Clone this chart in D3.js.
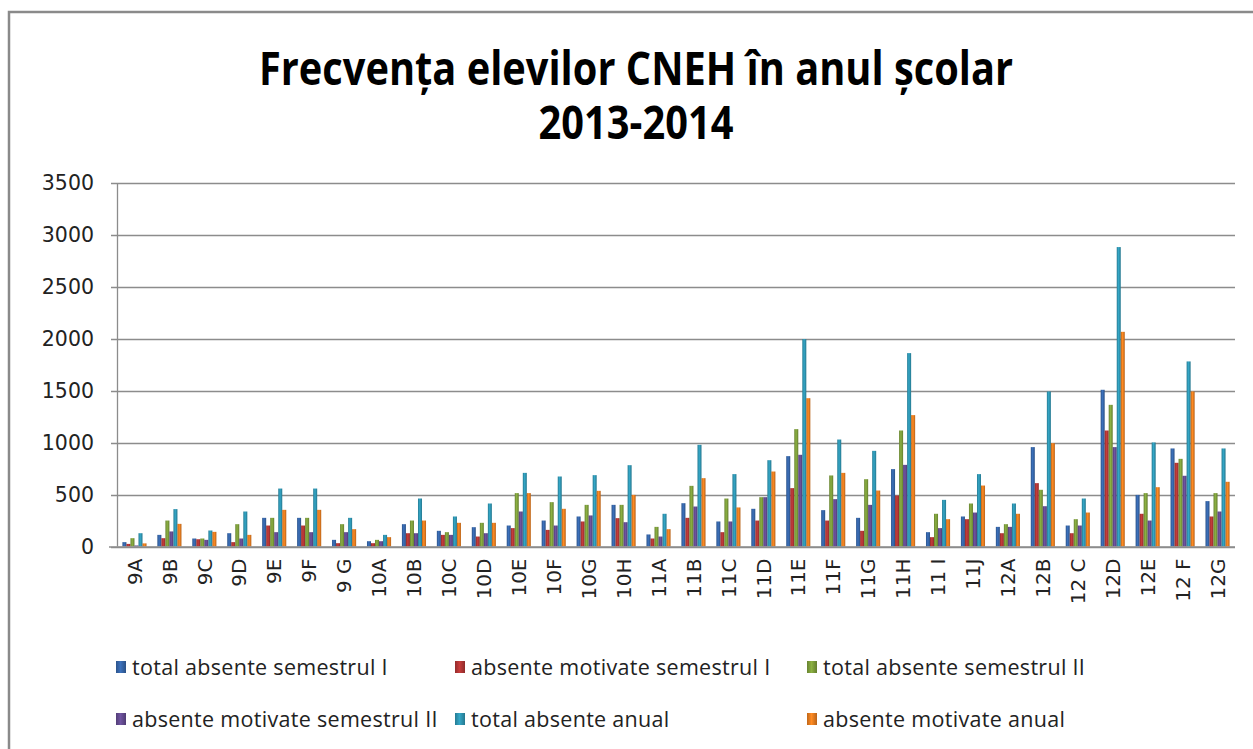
<!DOCTYPE html>
<html>
<head>
<meta charset="utf-8">
<script src="https://cdn.jsdelivr.net/npm/d3@7"></script>
<style>
  html, body { margin: 0; padding: 0; background: #fff; }
  svg { display: block; }
</style>
</head>
<body>
<svg id="chart" width="1253" height="749"></svg>
<script>
const categories = ["9A","9B","9C","9D","9E","9F","9 G","10A","10B","10C","10D","10E","10F","10G","10H",
  "11A","11B","11C","11D","11E","11F","11G","11H","11 I","11J","12A","12B","12 C","12D","12E","12 F","12G"];

const seriesNames = ["total absente semestrul I","absente motivate semestrul I","total absente semestrul II",
  "absente motivate semestrul II","total absente anual","absente motivate anual"];

const totalSem1 =    [42,112,77,128,276,276,64, 51,215,151,186,202,250,289,401, 116,417,241,363,870,350,276,745,138,289, 189,957,202,1509,497,944,437];
const motivateSem1 = [25,80,70,42,202,202,32, 32,128,112,96,177,160,241,273, 77,276,138,250,562,250,151,491,90,263, 128,610,128,1117,315,806,289];
const totalSem2 =    [80,250,77,215,276,276,215, 64,250,138,228,514,427,401,401, 189,584,462,475,1130,684,648,1117,315,414, 215,546,263,1364,514,844,514];
const motivateSem2 = [10,145,64,77,138,138,138, 51,128,112,128,337,202,299,234, 96,385,241,475,883,456,401,786,177,327, 189,388,202,957,250,681,337];
const totalAnual =   [128,360,154,337,558,558,276, 112,462,289,414,709,674,687,783, 315,979,697,831,1997,1030,921,1862,449,697, 414,1493,462,2883,1002,1782,944];
const motivateAnual =[30,218,141,112,353,353,167, 90,250,228,228,514,363,536,497, 167,658,376,722,1428,709,539,1265,263,587, 315,995,327,2067,571,1493,623];

const yTicks = [0,500,1000,1500,2000,2500,3000,3500];
const titleLines = ["Frecvența elevilor CNEH în anul școlar", "2013-2014"];

const seriesValues = [totalSem1, motivateSem1, totalSem2, motivateSem2, totalAnual, motivateAnual];
const colors = ["#3564a6","#b03534","#7c9c3a","#634a8e","#2e93b0","#e47b1f"];

const svg = d3.select("#chart");

// Outer chart border
svg.append("rect").attr("x", 9).attr("y", 12).attr("width", 1260).attr("height", 760)
  .attr("fill", "#fff").attr("stroke", "#8a8a8a").attr("stroke-width", 2.5);

// gradients for bars
const defs = svg.append("defs");
colors.forEach((c, i) => {
  const g = defs.append("linearGradient").attr("id", "g" + i)
    .attr("x1", "0%").attr("x2", "100%").attr("y1", "0%").attr("y2", "0%");
  const base = d3.color(c);
  g.append("stop").attr("offset", "0%").attr("stop-color", base.darker(0.5));
  g.append("stop").attr("offset", "45%").attr("stop-color", base.brighter(0.35));
  g.append("stop").attr("offset", "100%").attr("stop-color", base.darker(0.6));
});

const plot = { left: 117, right: 1235, top: 183, bottom: 546.5 };

const x0 = d3.scaleBand().domain(categories).range([plot.left, plot.right]).padding(0);
const step = x0.bandwidth();
const x1 = d3.scaleBand().domain(d3.range(seriesNames.length))
  .range([step * 0.155, step * 0.845]).padding(0);
const y = d3.scaleLinear().domain([0, 3500]).range([plot.bottom, plot.top]);

// gridlines
svg.append("g").selectAll("line").data(yTicks).join("line")
  .attr("x1", plot.left - 6).attr("x2", plot.right)
  .attr("y1", d => Math.round(y(d)) + 0.5).attr("y2", d => Math.round(y(d)) + 0.5)
  .attr("stroke", "#8c8c8c").attr("stroke-width", 1.3);

// y axis line
svg.append("line").attr("x1", plot.left + 0.5).attr("x2", plot.left + 0.5)
  .attr("y1", plot.top).attr("y2", plot.bottom).attr("stroke", "#8c8c8c").attr("stroke-width", 1.3);

// y tick labels
svg.append("g").selectAll("text").data(yTicks).join("text")
  .attr("x", 94).attr("y", d => y(d))
  .attr("dy", "0.36em")
  .attr("text-anchor", "end")
  .attr("font-family", "DejaVu Sans, sans-serif")
  .attr("font-size", 20.5)
  .attr("fill", "#222")
  .text(d => d);

// bars
const groups = svg.append("g").selectAll("g").data(categories).join("g")
  .attr("transform", d => `translate(${x0(d)},0)`);
groups.selectAll("rect")
  .data((d, ci) => seriesValues.map((arr, si) => ({ si, v: arr[ci] })))
  .join("rect")
  .attr("x", d => x1(d.si))
  .attr("width", x1.bandwidth())
  .attr("y", d => y(d.v))
  .attr("height", d => y(0) - y(d.v))
  .attr("fill", d => `url(#g${d.si})`);

// x axis line (redraw on top)
svg.append("line").attr("x1", plot.left - 8).attr("x2", plot.right)
  .attr("y1", plot.bottom + 0.5).attr("y2", plot.bottom + 0.5)
  .attr("stroke", "#8c8c8c").attr("stroke-width", 1.3);

// x labels rotated
svg.append("g").selectAll("text").data(categories).join("text")
  .attr("transform", d => `translate(${x0(d) + step / 2},${plot.bottom + 12}) rotate(-90)`)
  .attr("text-anchor", "end")
  .attr("dy", "0.36em")
  .attr("font-family", "DejaVu Sans, sans-serif")
  .attr("font-size", 20)
  .attr("fill", "#222")
  .text(d => d);

// title (single text element, two lines)
const title = svg.append("text")
  .attr("transform", "translate(636,0) scale(0.865,1)")
  .attr("text-anchor", "middle")
  .attr("font-family", "Open Sans, sans-serif")
  .attr("font-weight", "bold")
  .attr("font-size", 46)
  .attr("fill", "#000");
title.selectAll("tspan").data(titleLines).join("tspan")
  .attr("x", 0)
  .attr("y", (d, i) => i === 0 ? 85 : 139)
  .text(d => d);

// legend
const legendPos = [
  { x: 116, y: 667 }, { x: 455, y: 667 }, { x: 807, y: 667 },
  { x: 116, y: 719 }, { x: 455, y: 719 }, { x: 807, y: 719 }
];
const leg = svg.append("g").selectAll("g").data(seriesNames).join("g")
  .attr("transform", (d, i) => `translate(${legendPos[i].x},${legendPos[i].y})`);
leg.append("rect").attr("x", 0).attr("y", -6).attr("width", 10).attr("height", 12)
  .attr("fill", (d, i) => `url(#g${i})`);
leg.append("text").attr("x", 16).attr("y", 0).attr("dy", "0.35em")
  .attr("font-family", "Open Sans, sans-serif")
  .attr("font-size", 21.5)
  .attr("letter-spacing", 0.3)
  .attr("fill", "#222")
  .text(d => d);
</script>
</body>
</html>
